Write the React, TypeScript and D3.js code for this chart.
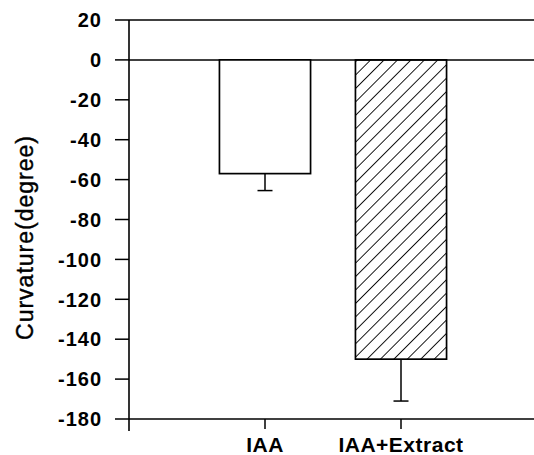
import React from "react";
import * as d3 from "d3";

const categories = ["IAA", "IAA+Extract"];
const values = [-57, -150];
const errors = [8.5, 21];
const yTicks = [20, 0, -20, -40, -60, -80, -100, -120, -140, -160, -180];

const W = 534;
const H = 455;

const App = () => {
  const left = 129;
  const top = 20;
  const bottom = 419;

  const y = d3.scaleLinear().domain([-180, 20]).range([bottom, top]);
  const x = d3
    .scaleBand()
    .domain(categories)
    .range([left, left + 408])
    .paddingInner(0.33)
    .paddingOuter(0.665);

  const font = "'Liberation Sans', Arial, sans-serif";

  return (
    <svg
      width={W}
      height={H}
      style={{ position: "absolute", left: 0, top: 0, background: "#fff" }}
    >
      <defs>
        <pattern
          id="hatch"
          patternUnits="userSpaceOnUse"
          width={9.5}
          height={9.5}
          patternTransform="rotate(45)"
        >
          <line x1={0} y1={0} x2={0} y2={9.5} stroke="#000" strokeWidth={1.8} />
        </pattern>
      </defs>

      {/* horizontal lines at top, zero and bottom */}
      {[20, 0, -180].map((v) => (
        <line
          key={v}
          x1={left}
          x2={W}
          y1={y(v)}
          y2={y(v)}
          stroke="#000"
          strokeWidth={1.5}
        />
      ))}

      {/* bars */}
      {categories.map((c, i) => (
        <g key={c}>
          <line
            x1={x(c)! + x.bandwidth() / 2}
            x2={x(c)! + x.bandwidth() / 2}
            y1={y(values[i])}
            y2={y(values[i] - errors[i])}
            stroke="#000"
            strokeWidth={1.5}
          />
          <line
            x1={x(c)! + x.bandwidth() / 2 - 7.5}
            x2={x(c)! + x.bandwidth() / 2 + 7.5}
            y1={y(values[i] - errors[i])}
            y2={y(values[i] - errors[i])}
            stroke="#000"
            strokeWidth={1.5}
          />
          <rect
            x={x(c)}
            y={y(0)}
            width={x.bandwidth()}
            height={y(values[i]) - y(0)}
            fill={i === 1 ? "url(#hatch)" : "#fff"}
            stroke="#000"
            strokeWidth={1.7}
          />
        </g>
      ))}

      {/* y axis */}
      <line x1={left} x2={left} y1={top} y2={bottom + 12} stroke="#000" strokeWidth={1.6} />
      {yTicks.map((t) => (
        <g key={t}>
          <line x1={left - 14} x2={left} y1={y(t)} y2={y(t)} stroke="#000" strokeWidth={1.5} />
          <text
            x={102}
            y={y(t)}
            dy="0.36em"
            textAnchor="end"
            fontFamily={font}
            fontSize={20}
            fontWeight="bold"
            letterSpacing={1}
            fill="#000"
          >
            {t}
          </text>
        </g>
      ))}

      {/* x ticks and labels */}
      {categories.map((c) => (
        <g key={c}>
          <line
            x1={x(c)! + x.bandwidth() / 2}
            x2={x(c)! + x.bandwidth() / 2}
            y1={bottom}
            y2={bottom + 10}
            stroke="#000"
            strokeWidth={1.5}
          />
          <text
            x={x(c)! + x.bandwidth() / 2}
            y={452}
            textAnchor="middle"
            fontFamily={font}
            fontSize={21}
            fontWeight="bold"
            letterSpacing={0.5}
            fill="#000"
          >
            {c}
          </text>
        </g>
      ))}

      <text
        transform={`translate(33,${(top + bottom) / 2 + 18}) rotate(-90)`}
        textAnchor="middle"
        fontFamily={font}
        fontSize={23}
        letterSpacing={1}
        stroke="#000"
        strokeWidth={0.4}
        fill="#000"
      >
        Curvature(degree)
      </text>
    </svg>
  );
};

export default App;
